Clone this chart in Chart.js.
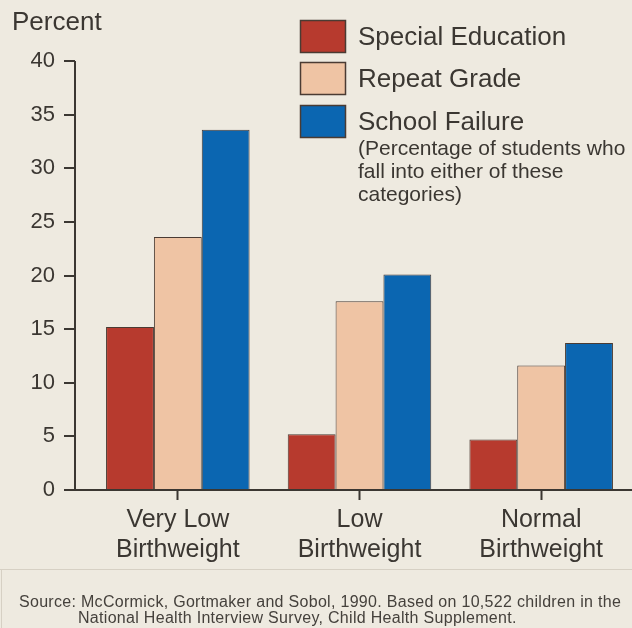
<!DOCTYPE html>
<html>
<head>
<meta charset="utf-8">
<title>Birthweight and school problems</title>
<script src="https://cdn.jsdelivr.net/npm/chart.js@4"></script>
<style>
  html, body { margin: 0; padding: 0; background: #eeeae0; }
  #chart { display: block; }
</style>
</head>
<body>
<canvas id="chart" width="632" height="628"></canvas>
<script>
const categories = [['Very Low', 'Birthweight'], ['Low', 'Birthweight'], ['Normal', 'Birthweight']];
const seriesNames = ['Special Education', 'Repeat Grade', 'School Failure'];
const specialEducation = [15.2, 5.2, 4.7];
const repeatGrade = [23.6, 17.6, 11.6];
const schoolFailure = [33.6, 20.1, 13.7];
const yTicks = [0, 5, 10, 15, 20, 25, 30, 35, 40];
const legendNote = ['(Percentage of students who', 'fall into either of these', 'categories)'];
const sourceLines = [
    'Source: McCormick, Gortmaker and Sobol, 1990. Based on 10,522 children in the',
    'National Health Interview Survey, Child Health Supplement.'
];

const INK = '#3b3732';
const EDGE = '#4a3b33';
const FONT = '"Liberation Sans", Arial, sans-serif';
const colors = ['#b73a2e', '#efc4a4', '#0b66b1'];

// axis lines sit a little left of the first bar group, so draw them by hand
const axesPlugin = {
    id: 'axesLines',
    afterDraw(chart) {
        const { ctx, chartArea, scales } = chart;
        const axisX = chartArea.left - 12;
        ctx.save();
        ctx.strokeStyle = INK;
        ctx.lineWidth = 2;
        ctx.beginPath();
        ctx.moveTo(axisX, chartArea.top);
        ctx.lineTo(axisX, chartArea.bottom + 1);
        ctx.moveTo(axisX - 1, chartArea.bottom);
        ctx.lineTo(chart.width, chartArea.bottom);
        yTicks.forEach(v => {
            const y = Math.round(scales.y.getPixelForValue(v));
            ctx.moveTo(axisX - 11, y);
            ctx.lineTo(axisX, y);
        });
        ctx.stroke();
        ctx.restore();
    }
};

// "Percent" header, boxed legend, note and source line
const textPlugin = {
    id: 'extraText',
    afterDraw(chart) {
        const { ctx } = chart;
        ctx.save();
        ctx.fillStyle = INK;
        ctx.textBaseline = 'middle';
        ctx.font = `26px ${FONT}`;
        ctx.fillText('Percent', 12, 23);

        const boxTops = [20, 62, 105];
        chart.data.datasets.forEach((ds, i) => {
            ctx.fillStyle = ds.backgroundColor;
            ctx.fillRect(300, boxTops[i], 45, 32);
            ctx.strokeStyle = EDGE;
            ctx.lineWidth = 1.5;
            ctx.strokeRect(300.5, boxTops[i] + 0.5, 45, 32);
            ctx.fillStyle = INK;
            ctx.font = `26px ${FONT}`;
            ctx.fillText(ds.label, 358, boxTops[i] + 18);
        });

        ctx.font = `21px ${FONT}`;
        legendNote.forEach((line, i) => ctx.fillText(line, 358, 149 + i * 23));

        ctx.fillStyle = '#45413c';
        ctx.textBaseline = 'alphabetic';
        ctx.font = `16px ${FONT}`;
        ctx.letterSpacing = '0.3px';
        ctx.fillText(sourceLines[0], 19, 607);
        ctx.fillText(sourceLines[1], 78, 623);
        ctx.letterSpacing = '0px';

        ctx.strokeStyle = '#d6d0c4';
        ctx.lineWidth = 1;
        ctx.beginPath();
        ctx.moveTo(0, 569.5);
        ctx.lineTo(chart.width, 569.5);
        ctx.moveTo(1.5, 569.5);
        ctx.lineTo(1.5, chart.height);
        ctx.stroke();
        ctx.restore();
    }
};

const values = [specialEducation, repeatGrade, schoolFailure];

new Chart(document.getElementById('chart'), {
    type: 'bar',
    data: {
        labels: categories,
        datasets: seriesNames.map((name, i) => ({
            label: name,
            data: values[i],
            backgroundColor: colors[i],
            borderColor: EDGE,
            borderWidth: 1,
            categoryPercentage: 0.79,
            barPercentage: 1.0
        }))
    },
    options: {
        responsive: false,
        devicePixelRatio: 1,
        animation: false,
        layout: { padding: { top: 61, left: 0, right: 0, bottom: 0 } },
        plugins: {
            legend: { display: false },
            title: { display: false },
            tooltip: { enabled: false }
        },
        scales: {
            y: {
                min: 0,
                max: 40,
                ticks: {
                    stepSize: 5,
                    padding: 32,
                    color: INK,
                    font: { family: FONT, size: 22 }
                },
                grid: { display: false, drawTicks: false },
                border: { display: false },
                afterFit: s => { s.width = 87; }
            },
            x: {
                ticks: {
                    padding: 5,
                    color: INK,
                    maxRotation: 0,
                    font: { family: FONT, size: 25, lineHeight: 1.2 }
                },
                grid: {
                    offset: false,
                    drawOnChartArea: false,
                    drawTicks: true,
                    tickLength: 10,
                    tickWidth: 2,
                    tickColor: INK
                },
                border: { display: false },
                afterFit: s => { s.height = 138; }
            }
        }
    },
    plugins: [axesPlugin, textPlugin]
});
</script>
</body>
</html>
